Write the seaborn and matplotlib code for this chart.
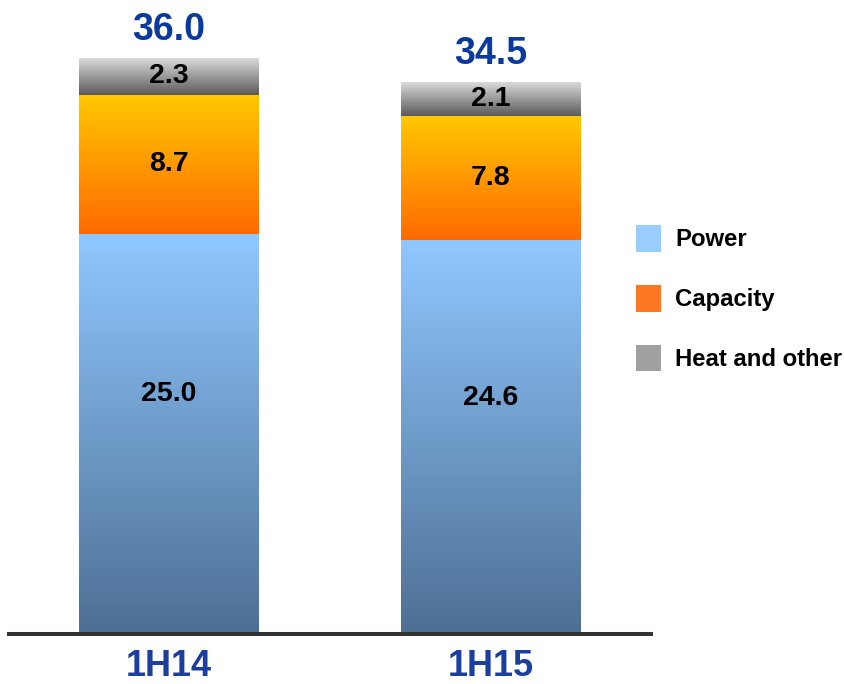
import numpy as np
import pandas as pd
import matplotlib
matplotlib.use("Agg")
import matplotlib.pyplot as plt
from matplotlib.colors import to_rgb
from matplotlib.patches import Patch
import seaborn as sns

# --- data ---
periods = ["1H14", "1H15"]
power = [25.0, 24.6]
capacity = [8.7, 7.8]
heat_other = [2.3, 2.1]
totals = [36.0, 34.5]
series_names = ["Power", "Capacity", "Heat and other"]

sns.set_theme(style="white")
plt.rcParams["font.family"] = ["Liberation Sans", "DejaVu Sans"]
plt.rcParams["text.color"] = "black"

W, H = 845, 684
fig = plt.figure(figsize=(W / 100, H / 100), dpi=100)
fig.patch.set_facecolor("white")

base_px = 634
px_per_unit = 16.0
ax = fig.add_axes([9 / W, (H - base_px) / H, 642 / W, base_px / H])

# cumulative stack levels
lvl1 = np.array(power)
lvl2 = lvl1 + np.array(capacity)
lvl3 = lvl2 + np.array(heat_other)

bar_w = 180 / 322
df = pd.DataFrame({"period": periods, "l1": lvl1, "l2": lvl2, "l3": lvl3})

# draw the stack as overlapping bars, tallest first
for col in ["l3", "l2", "l1"]:
    sns.barplot(data=df, x="period", y=col, width=bar_w, color="white",
                saturation=1, ax=ax, linewidth=0)

# gradient fills (top colour, bottom colour) per segment
grads = [
    ("#8FC8FF", "#4E6F94"),   # power
    ("#FFC800", "#FF6A00"),   # capacity
    ("#DADADA", "#5A5A5A"),   # heat and other
]
lower = [np.zeros(2), lvl1, lvl2]
upper = [lvl1, lvl2, lvl3]


def gradient(top, bottom, n=256):
    t = np.linspace(0, 1, n)[:, None]
    c0 = np.array(to_rgb(top))
    c1 = np.array(to_rgb(bottom))
    return (c0 * (1 - t) + c1 * t)[:, None, :]


patches = ax.patches[:2]  # first layer drawn gives bar geometry
for p in ax.patches:
    p.set_alpha(0)
for i, p in enumerate(patches):
    x0 = p.get_x()
    x1 = x0 + p.get_width()
    for s in range(3):
        ax.imshow(gradient(*grads[s]), extent=(x0, x1, lower[s][i], upper[s][i]),
                  aspect="auto", zorder=2, interpolation="bilinear")
    cx = (x0 + x1) / 2
    # segment values
    ax.text(cx, lower[0][i] + power[i] * 0.6, f"{power[i]:.1f}", ha="center",
            va="center", fontsize=20.5, fontweight="bold", color="black", zorder=5)
    ax.text(cx, (lower[1][i] + upper[1][i]) / 2, f"{capacity[i]:.1f}", ha="center",
            va="center", fontsize=20.5, fontweight="bold", color="black", zorder=5)
    ax.text(cx, (lower[2][i] + upper[2][i]) / 2, f"{heat_other[i]:.1f}", ha="center",
            va="center", fontsize=20.5, fontweight="bold", color="black", zorder=5)
    # totals
    ax.annotate(f"{totals[i]:.1f}", (cx, totals[i]), xytext=(0, 20.5),
                textcoords="offset points", ha="center", va="center",
                fontsize=27, fontweight="bold", color="#0B3A9E", zorder=5,
                annotation_clip=False)

ax.set_xlim(-160 / 322, 1 + 160 / 322)
ax.set_ylim(0, base_px / px_per_unit)

for side in ["top", "right", "left"]:
    ax.spines[side].set_visible(False)
ax.spines["bottom"].set_color("#333333")
ax.spines["bottom"].set_linewidth(2.9)
ax.spines["bottom"].set_zorder(6)
ax.set_xlabel("")
ax.set_ylabel("")
ax.set_yticks([])
ax.tick_params(axis="x", length=0, pad=11)
for lbl in ax.get_xticklabels():
    lbl.set_fontsize(26)
    lbl.set_fontweight("bold")
    lbl.set_color("#1A3F9E")

handles = [Patch(facecolor=c, edgecolor="none") for c in ["#99CCFF", "#FF7722", "#A0A0A0"]]
leg = fig.legend(handles, series_names, loc="upper left",
                 bbox_to_anchor=(636 / W, 1 - 225 / H), frameon=False,
                 prop={"size": 17.2, "weight": "bold"}, handlelength=1.05,
                 handleheight=1.35, handletextpad=0.58, labelspacing=1.38,
                 borderpad=0, borderaxespad=0, labelcolor="black")

fig.savefig("out.png", dpi=100, facecolor="white")
